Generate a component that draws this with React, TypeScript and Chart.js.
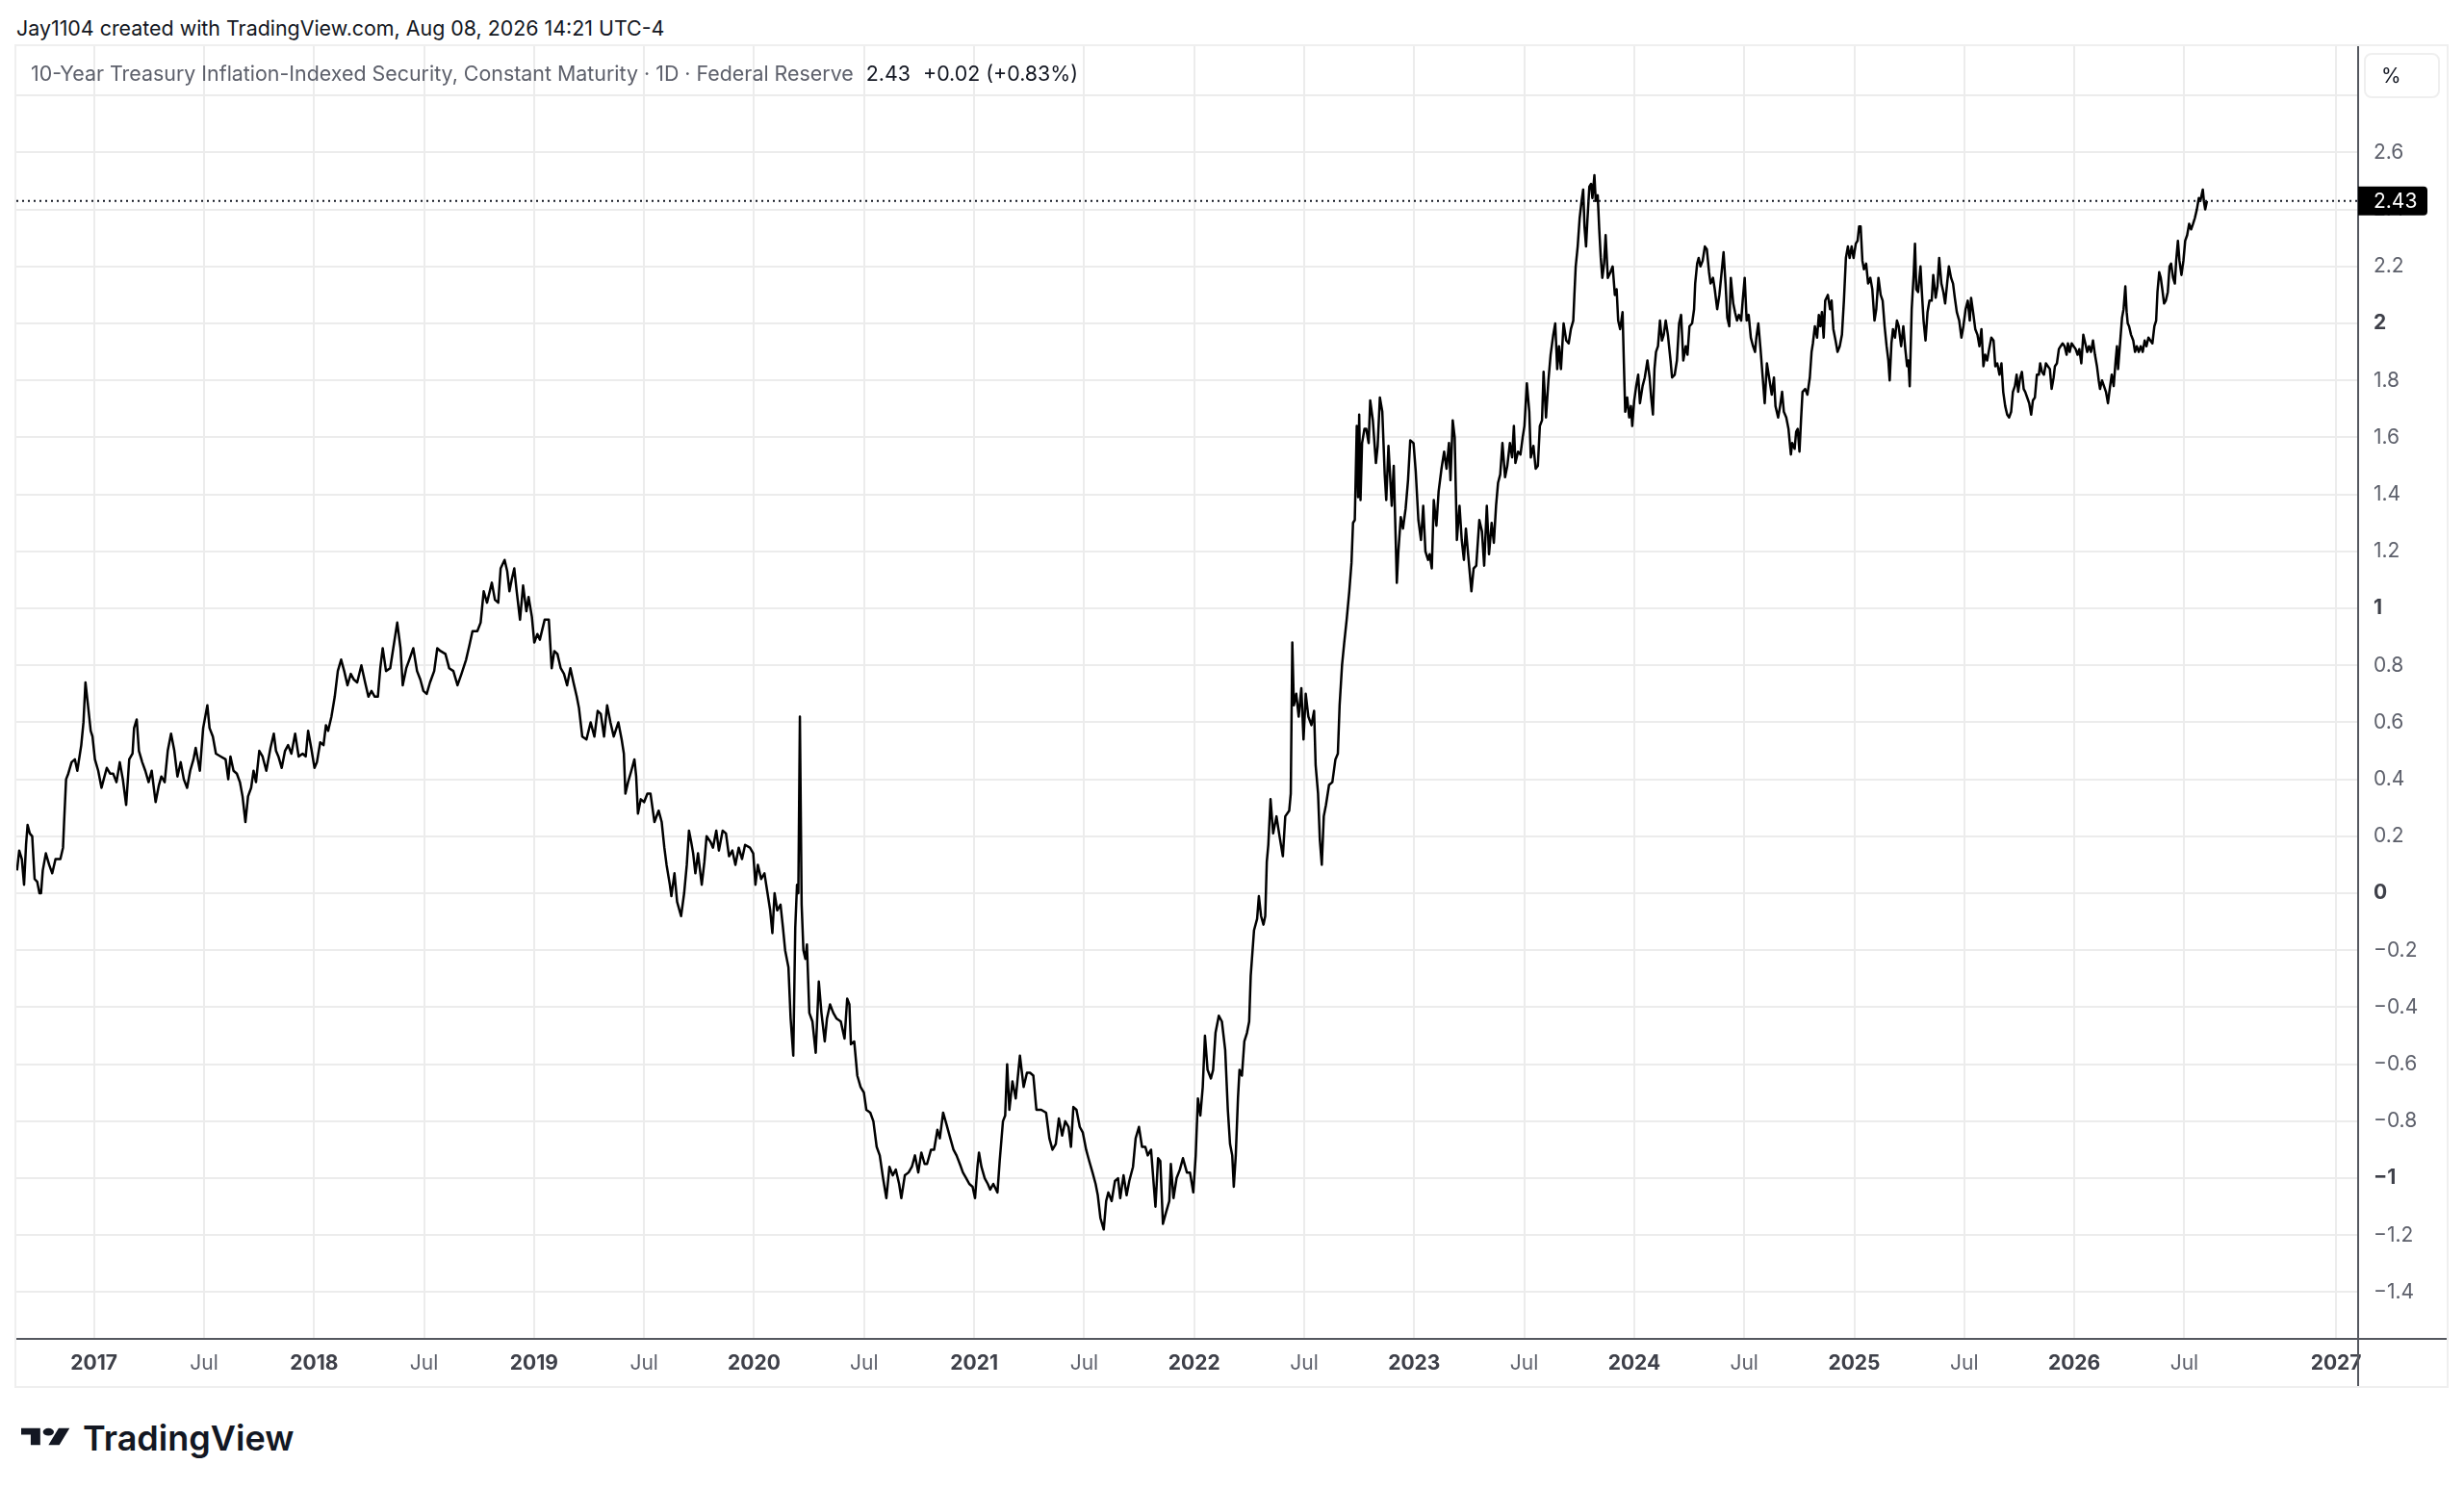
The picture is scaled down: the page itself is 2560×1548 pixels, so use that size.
import React, { useEffect, useRef } from "react";
import { Chart, registerables } from "chart.js";

Chart.register(...registerables);

const FONT = "Inter, 'Noto Sans', Roboto, sans-serif";

// Observation dates as decimal years (sampled from the daily series)
const dates: number[] = [
  2016.650, 2016.660, 2016.672, 2016.682, 2016.691, 2016.698, 2016.708, 2016.719, 2016.730, 2016.742,
  2016.752, 2016.759, 2016.767, 2016.781, 2016.796, 2016.810, 2016.825, 2016.847, 2016.859, 2016.864,
  2016.873, 2016.883, 2016.898, 2016.913, 2016.924, 2016.942, 2016.952, 2016.961, 2016.971, 2016.985,
  2016.993, 2017.004, 2017.019, 2017.034, 2017.044, 2017.058, 2017.073, 2017.087, 2017.102, 2017.117,
  2017.131, 2017.146, 2017.160, 2017.175, 2017.182, 2017.194, 2017.204, 2017.219, 2017.233, 2017.248,
  2017.262, 2017.280, 2017.295, 2017.306, 2017.321, 2017.335, 2017.350, 2017.365, 2017.379, 2017.394,
  2017.408, 2017.423, 2017.437, 2017.452, 2017.462, 2017.474, 2017.481, 2017.496, 2017.515, 2017.525,
  2017.540, 2017.554, 2017.576, 2017.598, 2017.610, 2017.620, 2017.634, 2017.649, 2017.663, 2017.675,
  2017.688, 2017.700, 2017.714, 2017.725, 2017.736, 2017.751, 2017.766, 2017.783, 2017.802, 2017.817,
  2017.827, 2017.838, 2017.853, 2017.868, 2017.882, 2017.897, 2017.914, 2017.930, 2017.948, 2017.962,
  2017.973, 2017.987, 2018.002, 2018.013, 2018.028, 2018.043, 2018.054, 2018.064, 2018.079, 2018.094,
  2018.108, 2018.123, 2018.137, 2018.152, 2018.167, 2018.181, 2018.196, 2018.215, 2018.232, 2018.247,
  2018.261, 2018.276, 2018.290, 2018.301, 2018.312, 2018.327, 2018.346, 2018.360, 2018.378, 2018.393,
  2018.403, 2018.419, 2018.433, 2018.451, 2018.468, 2018.483, 2018.497, 2018.512, 2018.527, 2018.546,
  2018.560, 2018.575, 2018.597, 2018.614, 2018.633, 2018.652, 2018.670,
  2018.691, 2018.706, 2018.720, 2018.742, 2018.757, 2018.771, 2018.786, 2018.808, 2018.822, 2018.837,
  2018.848, 2018.866, 2018.878, 2018.888, 2018.898, 2018.910, 2018.921, 2018.936, 2018.950, 2018.965,
  2018.975, 2018.990, 2019.001, 2019.015, 2019.026, 2019.048, 2019.067, 2019.080, 2019.092, 2019.106,
  2019.121, 2019.136, 2019.150, 2019.165, 2019.179, 2019.194, 2019.204, 2019.219, 2019.238, 2019.257,
  2019.274, 2019.289, 2019.303, 2019.318, 2019.332, 2019.347, 2019.362, 2019.383, 2019.398, 2019.408,
  2019.415, 2019.427, 2019.442, 2019.456, 2019.464, 2019.472, 2019.485, 2019.500, 2019.515, 2019.529,
  2019.547, 2019.566, 2019.580, 2019.592, 2019.602, 2019.617, 2019.624, 2019.638, 2019.650, 2019.668,
  2019.682, 2019.694, 2019.704, 2019.714, 2019.723, 2019.733, 2019.745, 2019.762, 2019.774, 2019.784,
  2019.802, 2019.813, 2019.828, 2019.840, 2019.857, 2019.872, 2019.886, 2019.901, 2019.915, 2019.930,
  2019.945, 2019.959, 2019.981, 2019.996, 2020.006, 2020.017, 2020.032, 2020.047, 2020.061, 2020.073,
  2020.083, 2020.093, 2020.105, 2020.120, 2020.131, 2020.141, 2020.156, 2020.166, 2020.178, 2020.187,
  2020.195, 2020.201, 2020.208, 2020.216, 2020.224, 2020.233, 2020.240, 2020.251, 2020.265, 2020.280,
  2020.294, 2020.306, 2020.321, 2020.331, 2020.345, 2020.360, 2020.375, 2020.394, 2020.411, 2020.423,
  2020.433, 2020.440, 2020.455, 2020.469, 2020.484, 2020.499, 2020.510, 2020.528, 2020.542, 2020.557,
  2020.571, 2020.586, 2020.601, 2020.615, 2020.630, 2020.644, 2020.659, 2020.669, 2020.685,
  2020.702, 2020.717, 2020.731, 2020.746, 2020.760, 2020.775, 2020.786, 2020.804, 2020.818, 2020.833,
  2020.844, 2020.859, 2020.874, 2020.888, 2020.906, 2020.920, 2020.935, 2020.949, 2020.964, 2020.978,
  2020.993, 2021.004, 2021.015, 2021.022, 2021.033, 2021.048, 2021.062, 2021.073, 2021.087, 2021.106,
  2021.116, 2021.131, 2021.141, 2021.150, 2021.160, 2021.174, 2021.189, 2021.208, 2021.225, 2021.240,
  2021.254, 2021.269, 2021.283, 2021.305, 2021.327, 2021.342, 2021.356, 2021.371, 2021.385, 2021.400,
  2021.414, 2021.429, 2021.440, 2021.451, 2021.465, 2021.480, 2021.494, 2021.509, 2021.523, 2021.538,
  2021.552, 2021.562, 2021.574, 2021.589, 2021.600, 2021.610, 2021.625, 2021.640, 2021.654, 2021.664,
  2021.679, 2021.693, 2021.705, 2021.722, 2021.734, 2021.749, 2021.763, 2021.778, 2021.789, 2021.804,
  2021.814, 2021.824, 2021.836, 2021.846, 2021.858, 2021.872, 2021.887, 2021.894, 2021.906, 2021.920,
  2021.935, 2021.949, 2021.967, 2021.981, 2021.996, 2022.007, 2022.017, 2022.028, 2022.039, 2022.049,
  2022.061, 2022.076, 2022.086, 2022.097, 2022.112, 2022.126, 2022.141, 2022.153, 2022.163, 2022.173,
  2022.180, 2022.189, 2022.199, 2022.206, 2022.217, 2022.228, 2022.240, 2022.250, 2022.257, 2022.272,
  2022.286, 2022.294, 2022.304, 2022.315, 2022.323, 2022.330, 2022.337, 2022.347, 2022.359, 2022.374,
  2022.388, 2022.403, 2022.414, 2022.432, 2022.439, 2022.446, 2022.453, 2022.464, 2022.475, 2022.487,
  2022.497, 2022.507, 2022.519, 2022.533, 2022.545, 2022.552, 2022.563, 2022.571, 2022.580, 2022.589,
  2022.599, 2022.613, 2022.628, 2022.642, 2022.653, 2022.661, 2022.672, 2022.682, 2022.693, 2022.705,
  2022.715, 2022.722,
  2022.730, 2022.739, 2022.745, 2022.750, 2022.756, 2022.763, 2022.774, 2022.782, 2022.793, 2022.800,
  2022.812, 2022.826, 2022.834, 2022.844, 2022.855, 2022.866, 2022.873, 2022.883, 2022.898, 2022.907,
  2022.917, 2022.921, 2022.928, 2022.939, 2022.949, 2022.961, 2022.972, 2022.982, 2022.997, 2023.007,
  2023.019, 2023.031, 2023.041, 2023.051, 2023.063, 2023.070, 2023.080, 2023.089, 2023.101, 2023.111,
  2023.124, 2023.136, 2023.147, 2023.158, 2023.165, 2023.175, 2023.184, 2023.194, 2023.206, 2023.216,
  2023.226, 2023.235, 2023.245, 2023.260, 2023.270, 2023.282, 2023.296, 2023.308, 2023.318, 2023.330,
  2023.340, 2023.352, 2023.362, 2023.372, 2023.381, 2023.391, 2023.401, 2023.413, 2023.423, 2023.435,
  2023.445, 2023.453, 2023.460, 2023.472, 2023.483, 2023.493, 2023.501, 2023.512, 2023.523, 2023.530,
  2023.542, 2023.552, 2023.562, 2023.571, 2023.581, 2023.588, 2023.599, 2023.610, 2023.620, 2023.632,
  2023.641, 2023.650, 2023.658, 2023.667, 2023.679, 2023.691, 2023.702, 2023.712, 2023.723, 2023.728,
  2023.734, 2023.743, 2023.752, 2023.761, 2023.768, 2023.774, 2023.781, 2023.787, 2023.796, 2023.804,
  2023.810, 2023.819, 2023.825, 2023.834, 2023.841, 2023.848, 2023.855, 2023.863, 2023.870, 2023.880,
  2023.892, 2023.902, 2023.912, 2023.920, 2023.927, 2023.936, 2023.947, 2023.953, 2023.959, 2023.968,
  2023.977, 2023.985, 2023.991, 2024.000, 2024.009, 2024.018, 2024.026, 2024.038, 2024.048, 2024.060,
  2024.070, 2024.077, 2024.085, 2024.092, 2024.099, 2024.108, 2024.117, 2024.126, 2024.134, 2024.143,
  2024.153, 2024.165, 2024.172, 2024.184, 2024.194, 2024.204, 2024.213, 2024.223, 2024.234, 2024.242,
  2024.251, 2024.263, 2024.272, 2024.277, 2024.286, 2024.293, 2024.301, 2024.311, 2024.321, 2024.330,
  2024.340, 2024.347, 2024.358, 2024.366, 2024.377, 2024.387, 2024.396, 2024.406, 2024.415, 2024.423,
  2024.432, 2024.439, 2024.450, 2024.458, 2024.467, 2024.476, 2024.486, 2024.493, 2024.502, 2024.511,
  2024.520, 2024.530, 2024.540, 2024.549, 2024.555, 2024.564, 2024.574, 2024.584, 2024.593, 2024.603,
  2024.613, 2024.625, 2024.635, 2024.642, 2024.654, 2024.663, 2024.672, 2024.680, 2024.691, 2024.701,
  2024.712,
  2024.718, 2024.729, 2024.736, 2024.743, 2024.751, 2024.758, 2024.765, 2024.777, 2024.787, 2024.798,
  2024.806, 2024.812, 2024.821, 2024.831, 2024.839, 2024.846, 2024.853, 2024.861, 2024.868, 2024.880,
  2024.890, 2024.897, 2024.905, 2024.915, 2024.924, 2024.934, 2024.944, 2024.953, 2024.962, 2024.971,
  2024.979, 2024.988, 2024.997, 2025.007, 2025.015, 2025.022, 2025.029, 2025.037, 2025.044, 2025.054,
  2025.063, 2025.073, 2025.082, 2025.092, 2025.100, 2025.110, 2025.120, 2025.129, 2025.138, 2025.147,
  2025.155, 2025.161, 2025.169, 2025.176, 2025.185, 2025.194, 2025.202, 2025.213, 2025.223, 2025.232,
  2025.240, 2025.246, 2025.252, 2025.261, 2025.270, 2025.276, 2025.282, 2025.290, 2025.301, 2025.308,
  2025.315, 2025.324, 2025.333, 2025.342, 2025.352, 2025.359, 2025.370, 2025.378, 2025.386, 2025.396,
  2025.405, 2025.413, 2025.422, 2025.430, 2025.440, 2025.449, 2025.457, 2025.466, 2025.477, 2025.487,
  2025.496, 2025.506, 2025.516, 2025.525, 2025.531, 2025.540, 2025.550, 2025.560, 2025.569, 2025.578,
  2025.587, 2025.595, 2025.604, 2025.613, 2025.623, 2025.633, 2025.641, 2025.650, 2025.660, 2025.669,
  2025.677, 2025.686, 2025.695, 2025.704, 2025.713, 2025.721, 2025.730, 2025.738, 2025.745, 2025.754,
  2025.762, 2025.770, 2025.777, 2025.786, 2025.795, 2025.804, 2025.812, 2025.821, 2025.830, 2025.839,
  2025.845, 2025.853, 2025.862, 2025.871, 2025.880, 2025.889, 2025.897, 2025.906, 2025.912, 2025.921,
  2025.930, 2025.938, 2025.947, 2025.956, 2025.965, 2025.971, 2025.979, 2025.988, 2025.997, 2026.006,
  2026.015, 2026.023, 2026.032, 2026.041, 2026.050, 2026.059, 2026.067, 2026.076, 2026.085, 2026.094,
  2026.103, 2026.111, 2026.117, 2026.126, 2026.135, 2026.144, 2026.153, 2026.161, 2026.170, 2026.179,
  2026.188, 2026.194, 2026.199, 2026.205, 2026.211, 2026.217, 2026.224, 2026.232, 2026.238, 2026.243,
  2026.249, 2026.258, 2026.268, 2026.276, 2026.284, 2026.293, 2026.302, 2026.311, 2026.320, 2026.328,
  2026.337, 2026.346, 2026.355, 2026.364, 2026.372, 2026.378, 2026.386, 2026.393, 2026.400, 2026.408,
  2026.416, 2026.425, 2026.433, 2026.440, 2026.449, 2026.457, 2026.463, 2026.471, 2026.478, 2026.487,
  2026.496, 2026.504, 2026.513, 2026.522, 2026.531, 2026.540, 2026.548, 2026.557, 2026.566, 2026.573,
  2026.584, 2026.589, 2026.595, 2026.603,
];

// Yield in percent at each date above
const values: number[] = [
  0.08, 0.15, 0.12, 0.03, 0.17, 0.24, 0.21, 0.20, 0.05, 0.04,
  0.00, 0.00, 0.08, 0.14, 0.10, 0.07, 0.12, 0.12, 0.16, 0.25,
  0.40, 0.42, 0.46, 0.47, 0.43, 0.52, 0.60, 0.74, 0.67, 0.57,
  0.55, 0.47, 0.43, 0.37, 0.40, 0.44, 0.42, 0.42, 0.39, 0.46,
  0.40, 0.31, 0.47, 0.49, 0.58, 0.61, 0.50, 0.46, 0.43, 0.39,
  0.43, 0.32, 0.38, 0.41, 0.39, 0.50, 0.56, 0.50, 0.41, 0.46,
  0.40, 0.37, 0.43, 0.47, 0.51, 0.46, 0.43, 0.58, 0.66, 0.58,
  0.55, 0.49, 0.48, 0.47, 0.40, 0.48, 0.43, 0.42, 0.39, 0.34,
  0.25, 0.34, 0.37, 0.43, 0.39, 0.50, 0.48, 0.43, 0.51, 0.56,
  0.50, 0.48, 0.44, 0.50, 0.52, 0.49, 0.56, 0.48, 0.49, 0.48,
  0.57, 0.51, 0.44, 0.46, 0.53, 0.52, 0.59, 0.57, 0.62, 0.69,
  0.78, 0.82, 0.78, 0.73, 0.77, 0.75, 0.74, 0.80, 0.74, 0.69,
  0.71, 0.69, 0.69, 0.79, 0.86, 0.78, 0.79, 0.86, 0.95, 0.86,
  0.73, 0.79, 0.82, 0.86, 0.78, 0.75, 0.71, 0.70, 0.74, 0.78,
  0.86, 0.85, 0.84, 0.79, 0.78, 0.73, 0.77,
  0.82, 0.87, 0.92, 0.92, 0.95, 1.06, 1.02, 1.09, 1.03, 1.02,
  1.14, 1.17, 1.13, 1.06, 1.10, 1.14, 1.06, 0.96, 1.08, 0.99,
  1.04, 0.97, 0.88, 0.91, 0.89, 0.96, 0.96, 0.79, 0.85, 0.84,
  0.79, 0.77, 0.73, 0.79, 0.74, 0.69, 0.65, 0.55, 0.54, 0.60,
  0.55, 0.64, 0.63, 0.55, 0.66, 0.60, 0.55, 0.60, 0.54, 0.49,
  0.35, 0.39, 0.43, 0.47, 0.41, 0.28, 0.33, 0.32, 0.35, 0.35,
  0.25, 0.29, 0.25, 0.16, 0.10, 0.03, -0.01, 0.07, -0.03, -0.08,
  0.00, 0.10, 0.22, 0.18, 0.14, 0.07, 0.14, 0.03, 0.11, 0.20,
  0.18, 0.16, 0.22, 0.15, 0.22, 0.21, 0.13, 0.15, 0.10, 0.16,
  0.12, 0.17, 0.16, 0.14, 0.03, 0.10, 0.05, 0.07, 0.00, -0.06,
  -0.14, 0.00, -0.06, -0.04, -0.12, -0.20, -0.26, -0.44, -0.57, -0.12,
  0.03, 0.00, 0.62, -0.04, -0.20, -0.23, -0.18, -0.42, -0.45, -0.56,
  -0.31, -0.42, -0.52, -0.44, -0.39, -0.42, -0.44, -0.45, -0.51, -0.37,
  -0.39, -0.53, -0.52, -0.64, -0.68, -0.70, -0.76, -0.77, -0.80, -0.89,
  -0.92, -1.00, -1.07, -0.96, -0.99, -0.97, -1.02, -1.07, -0.99,
  -0.98, -0.96, -0.92, -0.98, -0.91, -0.95, -0.95, -0.90, -0.90, -0.83,
  -0.86, -0.77, -0.81, -0.85, -0.90, -0.92, -0.95, -0.98, -1.00, -1.02,
  -1.03, -1.07, -0.96, -0.91, -0.96, -1.00, -1.02, -1.04, -1.02, -1.05,
  -0.94, -0.80, -0.78, -0.60, -0.76, -0.66, -0.72, -0.57, -0.68, -0.63,
  -0.63, -0.64, -0.76, -0.76, -0.77, -0.86, -0.90, -0.88, -0.79, -0.85,
  -0.80, -0.82, -0.89, -0.75, -0.76, -0.82, -0.84, -0.90, -0.94, -0.98,
  -1.02, -1.06, -1.14, -1.18, -1.08, -1.05, -1.08, -1.01, -1.00, -1.07,
  -0.99, -1.06, -1.01, -0.96, -0.86, -0.82, -0.89, -0.89, -0.92, -0.90,
  -1.00, -1.10, -0.93, -0.94, -1.16, -1.12, -1.08, -0.95, -1.07, -1.00,
  -0.97, -0.93, -0.98, -0.98, -1.05, -0.92, -0.72, -0.78, -0.68, -0.50,
  -0.62, -0.65, -0.62, -0.49, -0.43, -0.45, -0.55, -0.76, -0.88, -0.92,
  -1.03, -0.92, -0.72, -0.62, -0.64, -0.52, -0.49, -0.45, -0.29, -0.13,
  -0.09, -0.01, -0.08, -0.11, -0.08, 0.11, 0.17, 0.33, 0.21, 0.27,
  0.20, 0.13, 0.27, 0.29, 0.35, 0.88, 0.66, 0.70, 0.62, 0.72,
  0.54, 0.70, 0.62, 0.59, 0.64, 0.45, 0.35, 0.19, 0.10, 0.27,
  0.31, 0.38, 0.39, 0.47, 0.49, 0.66, 0.80, 0.88, 0.96, 1.06,
  1.16, 1.30,
  1.31, 1.64, 1.39, 1.68, 1.38, 1.58, 1.63, 1.63, 1.58, 1.73,
  1.66, 1.51, 1.57, 1.74, 1.69, 1.47, 1.38, 1.57, 1.36, 1.50,
  1.21, 1.09, 1.20, 1.32, 1.28, 1.35, 1.45, 1.59, 1.58, 1.48,
  1.31, 1.24, 1.36, 1.20, 1.17, 1.19, 1.14, 1.38, 1.29, 1.41,
  1.49, 1.55, 1.49, 1.58, 1.45, 1.66, 1.60, 1.24, 1.36, 1.24,
  1.17, 1.28, 1.19, 1.06, 1.14, 1.15, 1.31, 1.27, 1.15, 1.36,
  1.19, 1.30, 1.23, 1.36, 1.44, 1.47, 1.58, 1.46, 1.50, 1.58,
  1.53, 1.64, 1.51, 1.55, 1.54, 1.60, 1.64, 1.79, 1.69, 1.53,
  1.57, 1.49, 1.50, 1.64, 1.66, 1.83, 1.67, 1.80, 1.89, 1.96,
  2.00, 1.84, 1.92, 1.84, 2.00, 1.94, 1.93, 1.98, 2.01, 2.10,
  2.20, 2.27, 2.37, 2.43, 2.47, 2.34, 2.27, 2.36, 2.48, 2.49,
  2.44, 2.52, 2.43, 2.45, 2.33, 2.23, 2.16, 2.21, 2.31, 2.16,
  2.18, 2.20, 2.10, 2.12, 2.01, 1.98, 2.04, 1.86, 1.69, 1.74,
  1.67, 1.71, 1.64, 1.73, 1.78, 1.82, 1.72, 1.78, 1.81, 1.87,
  1.81, 1.74, 1.68, 1.84, 1.90, 1.92, 2.01, 1.94, 1.96, 2.01,
  1.96, 1.87, 1.81, 1.82, 1.87, 2.00, 2.03, 1.87, 1.92, 1.89,
  1.99, 2.00, 2.05, 2.14, 2.21, 2.23, 2.20, 2.22, 2.27, 2.26,
  2.18, 2.14, 2.16, 2.12, 2.05, 2.10, 2.17, 2.25, 2.14, 2.02,
  1.99, 2.16, 2.07, 2.04, 2.01, 2.03, 2.01, 2.08, 2.16, 2.01,
  2.03, 1.95, 1.92, 1.90, 1.95, 2.00, 1.91, 1.81, 1.72, 1.86,
  1.81, 1.75, 1.81, 1.71, 1.67, 1.71, 1.76, 1.69, 1.67, 1.63,
  1.54,
  1.58, 1.56, 1.62, 1.63, 1.55, 1.66, 1.76, 1.77, 1.75, 1.81,
  1.90, 1.93, 1.99, 1.95, 2.03, 1.99, 2.04, 1.95, 2.08, 2.10,
  2.05, 2.08, 1.98, 1.94, 1.90, 1.92, 1.96, 2.08, 2.23, 2.27,
  2.23, 2.27, 2.23, 2.28, 2.29, 2.34, 2.34, 2.22, 2.19, 2.21,
  2.14, 2.16, 2.12, 2.01, 2.05, 2.16, 2.10, 2.08, 1.99, 1.92,
  1.87, 1.80, 1.93, 1.98, 1.95, 2.01, 1.99, 1.92, 1.99, 1.91,
  1.85, 1.87, 1.78, 2.05, 2.17, 2.28, 2.12, 2.11, 2.20, 2.10,
  2.01, 1.94, 2.04, 2.08, 2.08, 2.17, 2.09, 2.13, 2.23, 2.14,
  2.11, 2.07, 2.14, 2.20, 2.16, 2.14, 2.09, 2.04, 2.01, 1.95,
  1.99, 2.05, 2.08, 2.01, 2.09, 2.04, 1.98, 1.96, 1.92, 1.98,
  1.85, 1.89, 1.87, 1.91, 1.95, 1.94, 1.85, 1.86, 1.82, 1.86,
  1.76, 1.71, 1.68, 1.67, 1.69, 1.76, 1.78, 1.82, 1.76, 1.81,
  1.83, 1.77, 1.76, 1.74, 1.72, 1.68, 1.73, 1.74, 1.82, 1.82,
  1.86, 1.83, 1.82, 1.86, 1.85, 1.84, 1.77, 1.81, 1.85, 1.86,
  1.91, 1.92, 1.93, 1.92, 1.89, 1.93, 1.90, 1.93, 1.92, 1.91,
  1.89, 1.91, 1.86, 1.96, 1.93, 1.90, 1.92, 1.90, 1.94, 1.89,
  1.85, 1.80, 1.77, 1.80, 1.78, 1.76, 1.72, 1.77, 1.82, 1.78,
  1.87, 1.92, 1.84, 1.90, 1.96, 2.02, 2.05, 2.13, 2.04, 2.00,
  1.99, 1.96, 1.94, 1.90, 1.92, 1.90, 1.92, 1.90, 1.94, 1.92,
  1.95, 1.94, 1.93, 1.99, 2.01, 2.11, 2.18, 2.16, 2.12, 2.07,
  2.08, 2.11, 2.20, 2.21, 2.16, 2.14, 2.22, 2.29, 2.22, 2.17,
  2.22, 2.29, 2.31, 2.35, 2.33, 2.35, 2.37, 2.40, 2.44, 2.43,
  2.47, 2.43, 2.40, 2.43,
];

// Time axis ticks (TradingView extrapolates the future area, so 2027 sits a bit further right)
const xTickValues: number[] = [
  2017, 2017.5, 2018, 2018.5, 2019, 2019.5, 2020, 2020.5, 2021, 2021.5,
  2022, 2022.5, 2023, 2023.5, 2024, 2024.5, 2025, 2025.5, 2026, 2026.5, 2027.19,
];
const xTickLabels: string[] = [
  "2017", "Jul", "2018", "Jul", "2019", "Jul", "2020", "Jul", "2021", "Jul",
  "2022", "Jul", "2023", "Jul", "2024", "Jul", "2025", "Jul", "2026", "Jul", "2027",
];
const yTickValues: number[] = [
  -1.4, -1.2, -1, -0.8, -0.6, -0.4, -0.2, 0, 0.2, 0.4, 0.6, 0.8, 1, 1.2, 1.4, 1.6, 1.8, 2, 2.2, 2.4, 2.6, 2.8,
];

const creditText = "Jay1104 created with TradingView.com, Aug 08, 2026 14:21 UTC-4";
const titleText = "10-Year Treasury Inflation-Indexed Security, Constant Maturity \u00b7 1D \u00b7 Federal Reserve";
const lastText = "2.43";
const changeText = "+0.02 (+0.83%)";

const X_MIN = 2016.647;
const X_MAX = 2027.29;
const Y_MIN = -1.564;
const Y_MAX = 2.973;

const CANVAS_W = 2525;
const CANVAS_H = 1392;
const PRICE_AXIS_W = 92;
const TIME_AXIS_H = 49;

const GRID = "#ececec";
const AXIS_LINE = "#55585f";

const isIntTick = (v: number) => Math.abs(Math.round(v) - v) < 1e-6;

const fmtY = (v: number) => {
  const r = Math.round(v * 10) / 10;
  if (r > 2.7) return "";
  const a = Math.abs(r);
  const s = isIntTick(r) ? String(a) : a.toFixed(1);
  return (r < -1e-9 ? "\u2212" : "") + s;
};

const overlayPlugin = {
  id: "tvOverlay",
  afterDatasetsDraw(chart: any) {
    const { ctx, chartArea, scales } = chart;
    const y = scales.y.getPixelForValue(values[values.length - 1]);
    ctx.save();
    ctx.strokeStyle = "#131722";
    ctx.lineWidth = 2;
    ctx.setLineDash([2, 4]);
    ctx.beginPath();
    ctx.moveTo(chartArea.left, y);
    ctx.lineTo(chartArea.right, y);
    ctx.stroke();
    ctx.restore();
  },
  afterDraw(chart: any) {
    const { ctx, chartArea, scales, width, height } = chart;
    ctx.save();
    ctx.strokeStyle = AXIS_LINE;
    ctx.lineWidth = 2;
    ctx.beginPath();
    ctx.moveTo(chartArea.right, 0);
    ctx.lineTo(chartArea.right, height);
    ctx.stroke();
    ctx.beginPath();
    ctx.moveTo(0, chartArea.bottom);
    ctx.lineTo(width, chartArea.bottom);
    ctx.stroke();

    const y = scales.y.getPixelForValue(values[values.length - 1]);
    const x0 = chartArea.right;
    const w = 72;
    const h = 30;
    const r = 4;
    ctx.fillStyle = "#000000";
    ctx.beginPath();
    ctx.moveTo(x0, y - h / 2);
    ctx.lineTo(x0 + w - r, y - h / 2);
    ctx.quadraticCurveTo(x0 + w, y - h / 2, x0 + w, y - h / 2 + r);
    ctx.lineTo(x0 + w, y + h / 2 - r);
    ctx.quadraticCurveTo(x0 + w, y + h / 2, x0 + w - r, y + h / 2);
    ctx.lineTo(x0, y + h / 2);
    ctx.closePath();
    ctx.fill();
    ctx.fillStyle = "#ffffff";
    ctx.font = `21px ${FONT}`;
    ctx.textAlign = "left";
    ctx.textBaseline = "middle";
    ctx.fillText(lastText, x0 + 16, y + 1);
    ctx.restore();
  },
};

function TvChart() {
  const ref = useRef<HTMLCanvasElement | null>(null);
  useEffect(() => {
    if (!ref.current) return;
    const points = dates.map((d, i) => ({ x: d, y: values[i] }));
    const chart = new Chart(ref.current, {
      type: "line",
      data: {
        datasets: [
          {
            data: points,
            borderColor: "#000000",
            borderWidth: 2.5,
            pointRadius: 0,
            tension: 0,
            fill: false,
            borderJoinStyle: "round",
          },
        ],
      },
      options: {
        responsive: false,
        animation: false,
        parsing: false,
        normalized: true,
        events: [],
        layout: { padding: 0 },
        plugins: {
          legend: { display: false },
          tooltip: { enabled: false },
        },
        scales: {
          x: {
            type: "linear",
            position: "bottom",
            min: X_MIN,
            max: X_MAX,
            afterBuildTicks: (s: any) => {
              s.ticks = xTickValues.map((v) => ({ value: v }));
            },
            afterFit: (s: any) => {
              s.height = TIME_AXIS_H;
              s.paddingLeft = 0;
              s.paddingRight = 0;
              s.paddingTop = 0;
              s.paddingBottom = 0;
            },
            grid: { color: GRID, lineWidth: 2, drawTicks: false },
            border: { display: false },
            ticks: {
              autoSkip: false,
              maxRotation: 0,
              minRotation: 0,
              padding: 13,
              callback: (_v: any, i: number) => xTickLabels[i],
              font: (c: any) => ({
                family: FONT,
                size: 21,
                weight: xTickLabels[c.index] === "Jul" ? "normal" : "bold",
              }),
              color: (c: any) => (xTickLabels[c.index] === "Jul" ? "#5d606b" : "#3e4049"),
            },
          },
          y: {
            type: "linear",
            position: "right",
            min: Y_MIN,
            max: Y_MAX,
            afterBuildTicks: (s: any) => {
              s.ticks = yTickValues.map((v) => ({ value: v }));
            },
            afterFit: (s: any) => {
              s.width = PRICE_AXIS_W;
              s.paddingLeft = 0;
              s.paddingRight = 0;
              s.paddingTop = 0;
              s.paddingBottom = 0;
            },
            grid: { color: GRID, lineWidth: 2, drawTicks: false },
            border: { display: false },
            ticks: {
              autoSkip: false,
              padding: 16,
              callback: (v: any) => fmtY(Number(v)),
              font: (c: any) => ({
                family: FONT,
                size: 21,
                weight: c.tick && isIntTick(c.tick.value) ? "bold" : "normal",
              }),
              color: (c: any) => (c.tick && isIntTick(c.tick.value) ? "#3e4049" : "#5d606b"),
            },
          },
        },
      },
      plugins: [overlayPlugin],
    } as any);
    return () => chart.destroy();
  }, []);

  return (
    <canvas
      ref={ref}
      width={CANVAS_W}
      height={CANVAS_H}
      style={{ position: "absolute", left: 17, top: 48, width: CANVAS_W, height: CANVAS_H }}
    />
  );
}

export default function App() {
  return (
    <div
      style={{
        position: "absolute",
        left: 0,
        top: 0,
        width: 2560,
        height: 1548,
        background: "#ffffff",
        fontFamily: FONT,
        overflow: "hidden",
      }}
    >
      <div
        style={{
          position: "absolute",
          left: 17,
          top: 14,
          fontSize: 21.4,
          lineHeight: "30px",
          color: "#131722",
          whiteSpace: "nowrap",
        }}
      >
        {creditText}
      </div>
      <div
        style={{
          position: "absolute",
          left: 15,
          top: 46,
          width: 2529,
          height: 1396,
          boxSizing: "border-box",
          border: "2px solid #efefef",
        }}
      />
      <TvChart />
      <div
        style={{
          position: "absolute",
          left: 32,
          top: 61,
          fontSize: 21.4,
          lineHeight: "30px",
          whiteSpace: "nowrap",
        }}
      >
        <span style={{ color: "#5d606b" }}>{titleText}</span>
        <span style={{ color: "#131722", marginLeft: 13 }}>{lastText}</span>
        <span style={{ color: "#131722", marginLeft: 13 }}>{changeText}</span>
      </div>
      <div
        style={{
          position: "absolute",
          left: 2456,
          top: 55,
          width: 79,
          height: 47,
          boxSizing: "border-box",
          border: "2px solid #efefef",
          borderRadius: 8,
          display: "flex",
          alignItems: "center",
          paddingLeft: 16,
          fontSize: 21,
          color: "#131722",
        }}
      >
        %
      </div>
      <div style={{ position: "absolute", left: 22, top: 1480, width: 51, height: 27 }}>
        <svg width="51" height="27" viewBox="0 0 36 28" preserveAspectRatio="none">
          <path d="M14 22H7V11H0V4h14v18zM28 22h-8l7.5-18h8L28 22z" fill="#131722" />
          <circle cx="20" cy="8" r="4" fill="#131722" />
        </svg>
      </div>
      <div
        style={{
          position: "absolute",
          left: 86,
          top: 1476,
          fontSize: 36,
          lineHeight: "36px",
          fontWeight: 600,
          letterSpacing: 0,
          color: "#131722",
          whiteSpace: "nowrap",
        }}
      >
        TradingView
      </div>
    </div>
  );
}
